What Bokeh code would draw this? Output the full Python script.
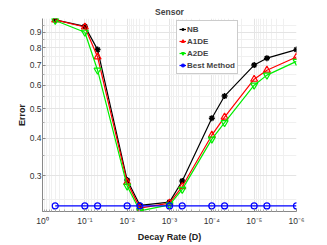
from bokeh.plotting import figure
from bokeh.models import Range1d, FixedTicker, Legend, LegendItem
from bokeh.embed import file_html
from bokeh.resources import INLINE

decay = [0.5, 0.1, 0.05, 0.01, 0.005, 0.001, 5e-4, 1e-4, 5e-5, 1e-5, 5e-6, 1e-6]
nb =    [0.99, 0.942, 0.788, 0.290, 0.239, 0.245, 0.288, 0.466, 0.552, 0.700, 0.738, 0.788]
a1de =  [0.99, 0.937, 0.745, 0.285, 0.234, 0.243, 0.276, 0.409, 0.470, 0.628, 0.673, 0.745]
a2de =  [0.985, 0.900, 0.673, 0.277, 0.229, 0.240, 0.270, 0.397, 0.450, 0.600, 0.648, 0.720]
best =  [0.238] * 12

x_ticks = [1, 1e-1, 1e-2, 1e-3, 1e-4, 1e-5, 1e-6]
x_tick_labels = ["10⁰", "10⁻¹", "10⁻²", "10⁻³", "10⁻⁴", "10⁻⁵", "10⁻⁶"]
y_ticks = [0.3, 0.4, 0.5, 0.6, 0.7, 0.8, 0.9]
y_tick_labels = ["0.3", "0.4", "0.5", "0.6", "0.7", "0.8", "0.9"]

p = figure(width=327, height=245, x_axis_type="log", y_axis_type="log",
           x_range=Range1d(1, 1e-6), y_range=Range1d(0.228, 1.0),
           output_backend="svg", toolbar_location=None,
           min_border_left=42, min_border_right=31, min_border_bottom=34, min_border_top=18)

p.title.text = "Sensor"
p.title.align = "center"
p.title.text_font = "Liberation Sans"
p.title.text_font_size = "8.5px"
p.title.text_font_style = "bold"
p.title.offset = 0
p.title.standoff = 3

p.outline_line_color = None

minor_x = []
for k in range(0, 6):
    for m in range(2, 10):
        minor_x.append(m * 10 ** -(k + 1))
p.xaxis.ticker = FixedTicker(ticks=x_ticks, minor_ticks=minor_x)
p.xaxis.major_label_overrides = {t: l for t, l in zip(x_ticks, x_tick_labels)}
p.yaxis.ticker = FixedTicker(ticks=y_ticks, minor_ticks=[0.25, 0.35, 0.45, 0.55, 0.65, 0.75, 0.85, 0.95])
p.yaxis.major_label_overrides = {t: l for t, l in zip(y_ticks, y_tick_labels)}

for ax in (p.xaxis[0], p.yaxis[0]):
    ax.axis_line_color = "#888888"
    ax.major_tick_line_color = "#888888"
    ax.minor_tick_line_color = "#aaaaaa"
    ax.major_tick_out = 0
    ax.major_tick_in = 3
    ax.minor_tick_out = 0
    ax.minor_tick_in = 2
    ax.major_label_text_font = "Liberation Sans"
    ax.major_label_text_font_size = "8.5px"
    ax.major_label_text_color = "#333333"
    ax.axis_label_text_font = "Liberation Sans"
    ax.axis_label_text_font_size = "9px"
    ax.axis_label_text_font_style = "bold"
    ax.axis_label_text_color = "#222222"

p.xaxis.axis_label = "Decay Rate (D)"
p.yaxis.axis_label = "Error"
p.xaxis.major_label_standoff = 4
p.yaxis.major_label_standoff = 1
p.xaxis.axis_label_standoff = 3
p.yaxis.axis_label_standoff = 0

p.xgrid.grid_line_color = "#e4e4e4"
p.ygrid.grid_line_color = "#e4e4e4"
p.xgrid.minor_grid_line_color = "#f0f0f0"
p.ygrid.minor_grid_line_color = "#f0f0f0"

r_nb_l = p.line(decay, nb, line_color="black", line_width=1.2)
r_nb_m = p.scatter(decay, nb, marker="asterisk", size=6, line_color="black", line_width=1.5)
r_a1_l = p.line(decay, a1de, line_color="red", line_width=1.2)
r_a1_m = p.scatter(decay, a1de, marker="triangle", size=7, line_color="red", fill_color=None, line_width=1.2)
r_a2_l = p.line(decay, a2de, line_color="#00ee00", line_width=1.2)
r_a2_m = p.scatter(decay, a2de, marker="inverted_triangle", size=7, line_color="#00ee00", fill_color=None, line_width=1.2)
r_b_l = p.line(decay, best, line_color="blue", line_width=1.2)
r_b_m = p.scatter(decay, best, marker="circle", size=6, line_color="blue", fill_color=None, line_width=1.2)

legend = Legend(items=[
    LegendItem(label="NB", renderers=[r_nb_l, r_nb_m]),
    LegendItem(label="A1DE", renderers=[r_a1_l, r_a1_m]),
    LegendItem(label="A2DE", renderers=[r_a2_l, r_a2_m]),
    LegendItem(label="Best Method", renderers=[r_b_l, r_b_m]),
], location=(134, 137))
legend.label_text_font = "Liberation Sans"
legend.label_text_font_size = "8px"
legend.label_text_font_style = "bold"
legend.glyph_width = 7
legend.glyph_height = 10
legend.label_standoff = 1
legend.label_height = 12
legend.spacing = 0
legend.padding = 2
legend.margin = 0
legend.border_line_color = "#999999"
legend.background_fill_alpha = 1
p.add_layout(legend, "center")

open("out.html", "w").write(file_html(p, INLINE))
